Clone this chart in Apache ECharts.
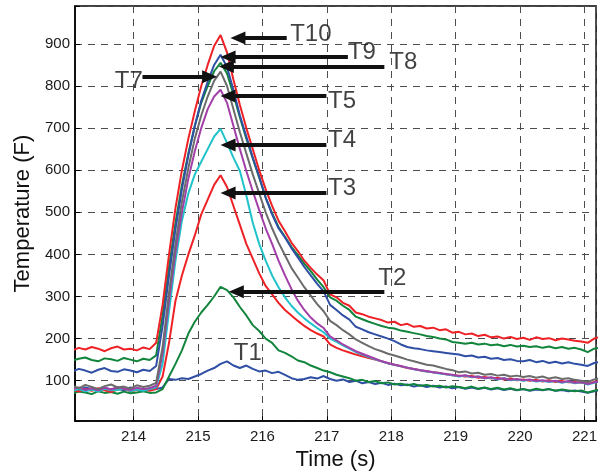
<!DOCTYPE html>
<html>
<head>
<meta charset="utf-8">
<script src="https://cdn.jsdelivr.net/npm/echarts@6/dist/echarts.min.js"></script>
<style>
html,body{margin:0;padding:0;background:#fff;}
#chart{width:600px;height:476px;}
</style>
</head>
<body>
<div id="chart"></div>
<script>
// Sample times (s)
const times = [
 213.05,213.15,213.25,213.35,213.45,213.55,213.65,213.75,213.85,213.95,
 214.05,214.15,214.25,214.35,214.45,214.55,214.65,214.75,214.85,214.95,
 215.05,215.15,215.25,215.35,215.45,215.55,215.65,215.75,215.85,215.95,
 216.05,216.15,216.25,216.35,216.45,216.55,216.65,216.75,216.85,216.95,
 217.05,217.15,217.25,217.35,217.45,217.55,217.65,217.75,217.85,217.95,
 218.05,218.15,218.25,218.35,218.45,218.55,218.65,218.75,218.85,218.95,
 219.05,219.15,219.25,219.35,219.45,219.55,219.65,219.75,219.85,219.95,
 220.05,220.15,220.25,220.35,220.45,220.55,220.65,220.75,220.85,220.95,
 221.05,221.15,221.25
];

const T1 = [
 82,78,84,80,76,83,79,81,77,84,
 80,78,82,80,84,104,102,106,104,110,
 116,124,130,140,146,136,130,136,128,122,
 124,118,121,114,106,102,104,108,105,111,
 104,100,103,97,100,94,97,92,95,90,
 93,89,91,86,89,85,88,84,86,82,
 85,81,84,80,83,79,82,78,81,77,
 80,76,79,77,80,76,78,75,77,74,
 71,75,78
];
const T2 = [
 70,74,72,68,75,71,73,69,74,70,
 72,75,71,72,80,110,140,172,212,240,
 262,280,300,323,315,298,275,255,232,218,
 200,190,172,166,158,148,144,136,130,124,
 120,114,110,106,100,102,97,99,94,96,
 91,93,89,92,88,90,86,88,84,87,
 85,82,86,81,84,80,83,79,82,78,
 80,77,81,78,80,76,79,77,75,77,
 72,76,79
];
const T3 = [
 78,74,80,76,82,77,73,79,81,75,
 78,80,76,80,110,190,290,350,400,445,
 495,530,565,588,560,515,470,425,390,355,
 325,305,285,268,255,242,230,220,212,205,
 186,178,172,167,162,158,154,150,146,141,
 138,134,130,128,125,122,120,118,115,113,
 112,110,111,107,109,105,107,103,105,101,
 103,100,102,98,101,97,99,96,97,95,
 93,97,100
];
const T4 = [
 76,80,75,79,74,81,77,78,82,75,
 79,76,80,84,140,265,385,480,545,590,
 620,650,680,698,665,630,598,540,475,425,
 385,350,322,298,278,262,248,236,225,215,
 200,192,184,176,168,162,156,151,146,141,
 138,134,131,127,125,122,120,117,115,113,
 110,112,108,110,106,107,103,106,101,103,
 100,102,98,100,97,99,95,98,94,96,
 91,95,98
];
const T5 = [
 80,84,78,82,77,83,79,85,81,78,
 83,80,82,88,165,290,405,500,580,645,
 700,745,775,791,760,705,650,598,550,505,
 462,425,385,350,318,290,268,250,236,225,
 205,196,186,178,170,164,158,152,146,142,
 138,135,131,128,125,123,120,118,116,114,
 111,113,109,110,106,108,104,106,102,104,
 101,103,99,101,98,100,96,99,95,97,
 92,96,99
];
const T7 = [
 88,82,90,85,80,87,91,84,86,81,
 89,85,88,95,180,310,425,525,605,675,
 730,775,812,834,800,745,690,640,590,545,
 500,462,428,398,368,345,322,302,282,265,
 242,232,220,210,198,190,182,175,170,164,
 160,155,150,146,142,138,136,132,128,125,
 120,122,117,119,114,116,112,114,110,112,
 109,111,107,110,105,108,104,106,102,100,
 97,103,106
];
const T8 = [
 148,152,155,149,146,153,151,147,154,150,
 146,152,149,160,255,370,475,565,640,705,
 760,800,835,855,830,780,725,675,628,582,
 535,498,465,442,418,398,378,360,340,322,
 298,290,278,268,252,246,240,235,230,226,
 224,219,216,213,210,206,204,200,198,192,
 190,188,190,186,188,184,186,182,185,181,
 183,180,182,178,181,177,180,176,178,174,
 168,176,179
];
const T9 = [
 122,128,124,119,126,130,123,121,127,124,
 120,126,123,135,230,350,460,555,635,705,
 765,810,850,874,845,790,730,680,630,585,
 535,495,462,440,415,393,370,350,330,312,
 280,268,255,245,228,222,215,210,205,200,
 194,186,180,177,175,172,170,168,166,164,
 162,158,160,155,157,152,154,149,151,147,
 146,149,144,147,142,145,141,144,140,138,
 135,142,145
];
const T10 = [
 172,178,174,180,176,170,177,181,174,176,
 172,179,175,190,280,400,510,600,675,740,
 800,850,895,921,880,815,755,700,650,600,
 555,515,480,455,428,408,385,368,352,338,
 305,298,285,278,262,258,252,248,244,238,
 240,232,235,228,230,224,226,220,222,214,
 216,210,212,206,209,203,205,200,204,199,
 202,197,203,199,201,196,200,198,195,193,
 190,200,204
];

const seriesNames = ['T1','T2','T3','T4','T5','T7','T8','T9','T10'];
const seriesValues = [T1,T2,T3,T4,T5,T7,T8,T9,T10];
const seriesColors = ['#2f4fa5','#12853d','#ee2226','#1fc3c9','#a23fa8','#6b6b6b','#12853d','#2f4fa5','#ee2226'];

// Arrow annotations (data coordinates)
const arrowHeadT = [215.62,215.466,215.44,215.18,215.466,215.466,215.466,215.594];
const arrowTailT = [216.377,217.327,217.893,214.138,216.993,216.993,216.993,217.893];
const arrowTemp  = [914,869,846,822,776,660,546,311];

// Text annotations
const labelTexts = ['T10','T9','T8','T7','T5','T4','T3','T2','T1'];
const labelT     = [216.43,217.327,217.97,214.142,217.019,217.019,217.019,217.80,215.555];
const labelTemp  = [922,879,855,812,764,670,556,343,164];
const labelAlign = ['left','left','left','right','left','left','left','left','left'];

const xMin = 213.09, xMax = 221.18;
const yMin = 4, yMax = 990;

const FONT = 'Liberation Sans, Arial, sans-serif';

const series = seriesValues.map((vals, k) => ({
  name: seriesNames[k],
  type: 'line',
  data: vals.map((v, i) => [times[i], v]),
  showSymbol: false,
  symbol: 'none',
  lineStyle: { color: seriesColors[k], width: 2 },
  itemStyle: { color: seriesColors[k] },
  clip: true,
  z: 3
}));

series.push({
  type: 'line',
  data: [],
  silent: true,
  markLine: {
    silent: true,
    animation: false,
    symbol: ['triangle', 'none'],
    symbolSize: [13, 15],
    label: { show: false },
    lineStyle: { color: '#111', width: 4, type: 'solid' },
    itemStyle: { color: '#111' },
    emphasis: { disabled: true },
    data: arrowHeadT.map((h, i) => [
      { coord: [h, arrowTemp[i]] },
      { coord: [arrowTailT[i], arrowTemp[i]] }
    ])
  },
  z: 5
});

series.push({
  type: 'scatter',
  symbolSize: 0,
  silent: true,
  itemStyle: { color: '#111' },
  data: labelTexts.map((txt, i) => ({
    value: [labelT[i], labelTemp[i]],
    name: txt,
    label: { align: labelAlign[i] }
  })),
  label: {
    show: true,
    position: 'inside',
    verticalAlign: 'middle',
    formatter: p => p.name,
    fontSize: 24,
    fontFamily: FONT,
    color: '#111',
    textBorderWidth: 0,
    textBorderColor: 'transparent'
  },
  z: 6
});

const chart = echarts.init(document.getElementById('chart'), null, { renderer: 'canvas' });
chart.setOption({
  animation: false,
  backgroundColor: '#fff',
  grid: {
    left: 75, right: 0, top: 6, bottom: 52.7,
    show: true, borderColor: '#000', borderWidth: 1.5, backgroundColor: 'transparent'
  },
  xAxis: {
    type: 'value',
    min: xMin, max: xMax,
    minInterval: 1, maxInterval: 1,
    name: 'Time (s)',
    nameLocation: 'middle',
    nameGap: 27,
    nameTextStyle: { fontSize: 22, fontFamily: FONT, color: '#111' },
    axisLine: { show: true, lineStyle: { color: '#000', width: 1.5 } },
    axisTick: { show: true, inside: true, length: 5, lineStyle: { color: '#000' } },
    axisLabel: {
      fontSize: 15, fontFamily: FONT, color: '#1a1a1a', margin: 8,
      formatter: v => (Math.abs(v - Math.round(v)) < 1e-6 ? String(Math.round(v)) : '')
    },
    splitLine: { show: true, lineStyle: { color: '#4d4d4d', width: 1, type: [7, 6] } }
  },
  yAxis: {
    type: 'value',
    min: yMin, max: yMax,
    minInterval: 100, maxInterval: 100,
    name: 'Temperature (F)',
    nameLocation: 'middle',
    nameRotate: 90,
    nameGap: 39,
    nameTextStyle: { fontSize: 22, fontFamily: FONT, color: '#111' },
    axisLine: { show: true, lineStyle: { color: '#000', width: 1.5 } },
    axisTick: { show: true, inside: true, length: 5, lineStyle: { color: '#000' } },
    axisLabel: {
      fontSize: 15, fontFamily: FONT, color: '#1a1a1a', margin: 5,
      formatter: v => (Math.abs(v % 100) < 1e-6 && v > 0 ? String(v) : '')
    },
    splitLine: { show: true, lineStyle: { color: '#4d4d4d', width: 1, type: [7, 6] } }
  },
  series: series
});
</script>
</body>
</html>
